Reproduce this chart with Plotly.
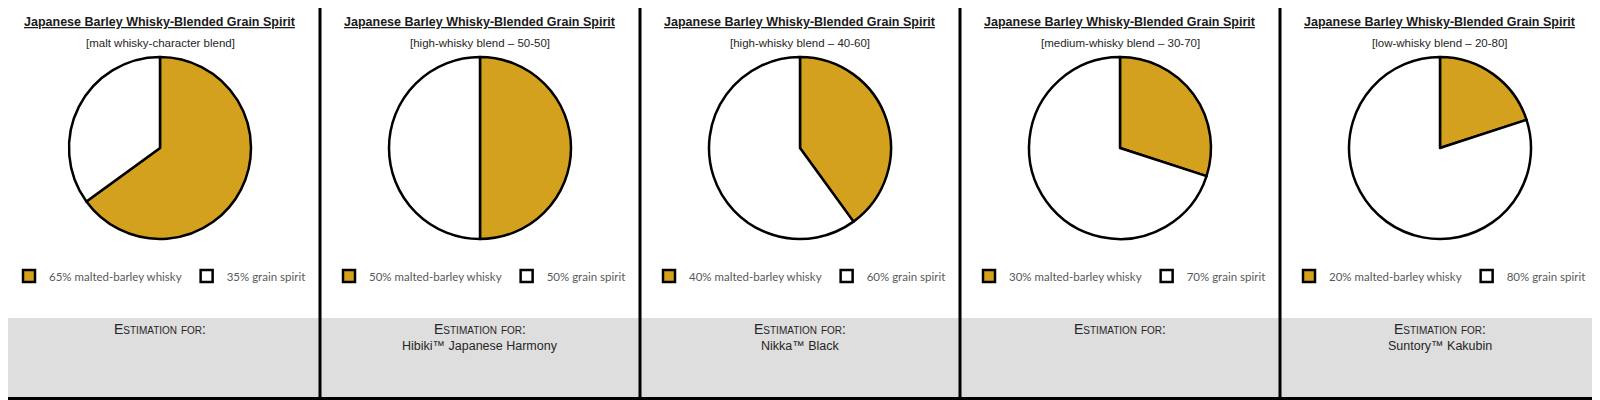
import plotly.graph_objects as go

# the page body keeps the browser's 8px margin, so the figure is drawn
# 8px smaller and every reference pixel position is shifted by OFF
OFF = 8
W, H = 1600 - OFF, 400 - OFF

title = "Japanese Barley Whisky-Blended Grain Spirit"
subtitles = [
    "malt whisky-character blend",
    "high-whisky blend – 50-50",
    "high-whisky blend – 40-60",
    "medium-whisky blend – 30-70",
    "low-whisky blend – 20-80",
]
whisky_pct = [65, 50, 40, 30, 20]
grain_pct = [35, 50, 60, 70, 80]
products = ["", "Hibiki™ Japanese Harmony", "Nikka™ Black", "", "Suntory™ Kakubin"]

GOLD = "#D4A11E"
NARROW = "Liberation Sans Narrow, Arial Narrow, Liberation Sans, Arial"
panel_w = 1600 / len(whisky_pct)


def fx(px):
    return (px - OFF) / W


def fy(py):
    return 1 - (py - OFF) / H


fig = go.Figure()
shapes = []
annotations = []
layout_legends = {}

for i, (w, g) in enumerate(zip(whisky_pct, grain_pct)):
    cx = panel_w * i + panel_w / 2
    cy, r = 148, 91
    leg = "legend" if i == 0 else f"legend{i + 1}"

    fig.add_trace(go.Pie(
        labels=[f"{w}% malted-barley whisky", f"{g}% grain spirit"],
        values=[w, g],
        sort=False,
        direction="clockwise",
        rotation=0,
        textinfo="none",
        hoverinfo="label",
        marker=dict(colors=[GOLD, "#FFFFFF"], line=dict(color="#000000", width=2.5)),
        domain=dict(x=[fx(cx - r), fx(cx + r)], y=[fy(cy + r), fy(cy - r)]),
        legend=leg,
        showlegend=True,
    ))

    layout_legends[leg] = dict(
        orientation="h",
        x=fx(cx), xanchor="center",
        y=fy(276), yanchor="middle",
        font=dict(family="Lato, Open Sans, sans-serif", size=11.5, color="#595959"),
        bgcolor="rgba(0,0,0,0)",
        itemwidth=30,
    )

    # gray footer
    shapes.append(dict(type="rect", xref="paper", yref="paper",
                       x0=fx(panel_w * i), x1=fx(panel_w * (i + 1)),
                       y0=fy(397), y1=fy(318),
                       fillcolor="#DEDEDE", line=dict(width=0), layer="below"))

    common = dict(x=fx(cx), xref="paper", yref="paper", xanchor="center",
                  yanchor="middle", showarrow=False)
    annotations.append(dict(
        text=f"<u>{title}</u>", y=fy(22),
        font=dict(family=NARROW, size=12.5, color="#1a1a1a", weight="bold"), **common))
    annotations.append(dict(
        text=f"[{subtitles[i]}]", y=fy(43),
        font=dict(family=NARROW, size=11.5, color="#262626"), **common))
    annotations.append(dict(
        text="Estimation for:", y=fy(329),
        font=dict(family=NARROW, size=14, color="#262626", variant="small-caps"), **common))
    if products[i]:
        annotations.append(dict(
            text=products[i], y=fy(346),
            font=dict(family=NARROW, size=12.5, color="#262626"), **common))

# borders
shapes.append(dict(type="rect", xref="paper", yref="paper",
                   x0=fx(1.5), x1=fx(1596.5), y0=fy(398.5), y1=fy(1.5),
                   line=dict(color="#000000", width=3)))
for i in range(1, len(whisky_pct)):
    shapes.append(dict(type="line", xref="paper", yref="paper",
                       x0=fx(panel_w * i), x1=fx(panel_w * i), y0=fy(400), y1=fy(0),
                       line=dict(color="#000000", width=3)))

fig.update_layout(
    width=W, height=H,
    margin=dict(l=0, r=0, t=0, b=0),
    paper_bgcolor="#FFFFFF",
    plot_bgcolor="#FFFFFF",
    shapes=shapes,
    annotations=annotations,
    **layout_legends,
)

fig.write_html("out.html")
